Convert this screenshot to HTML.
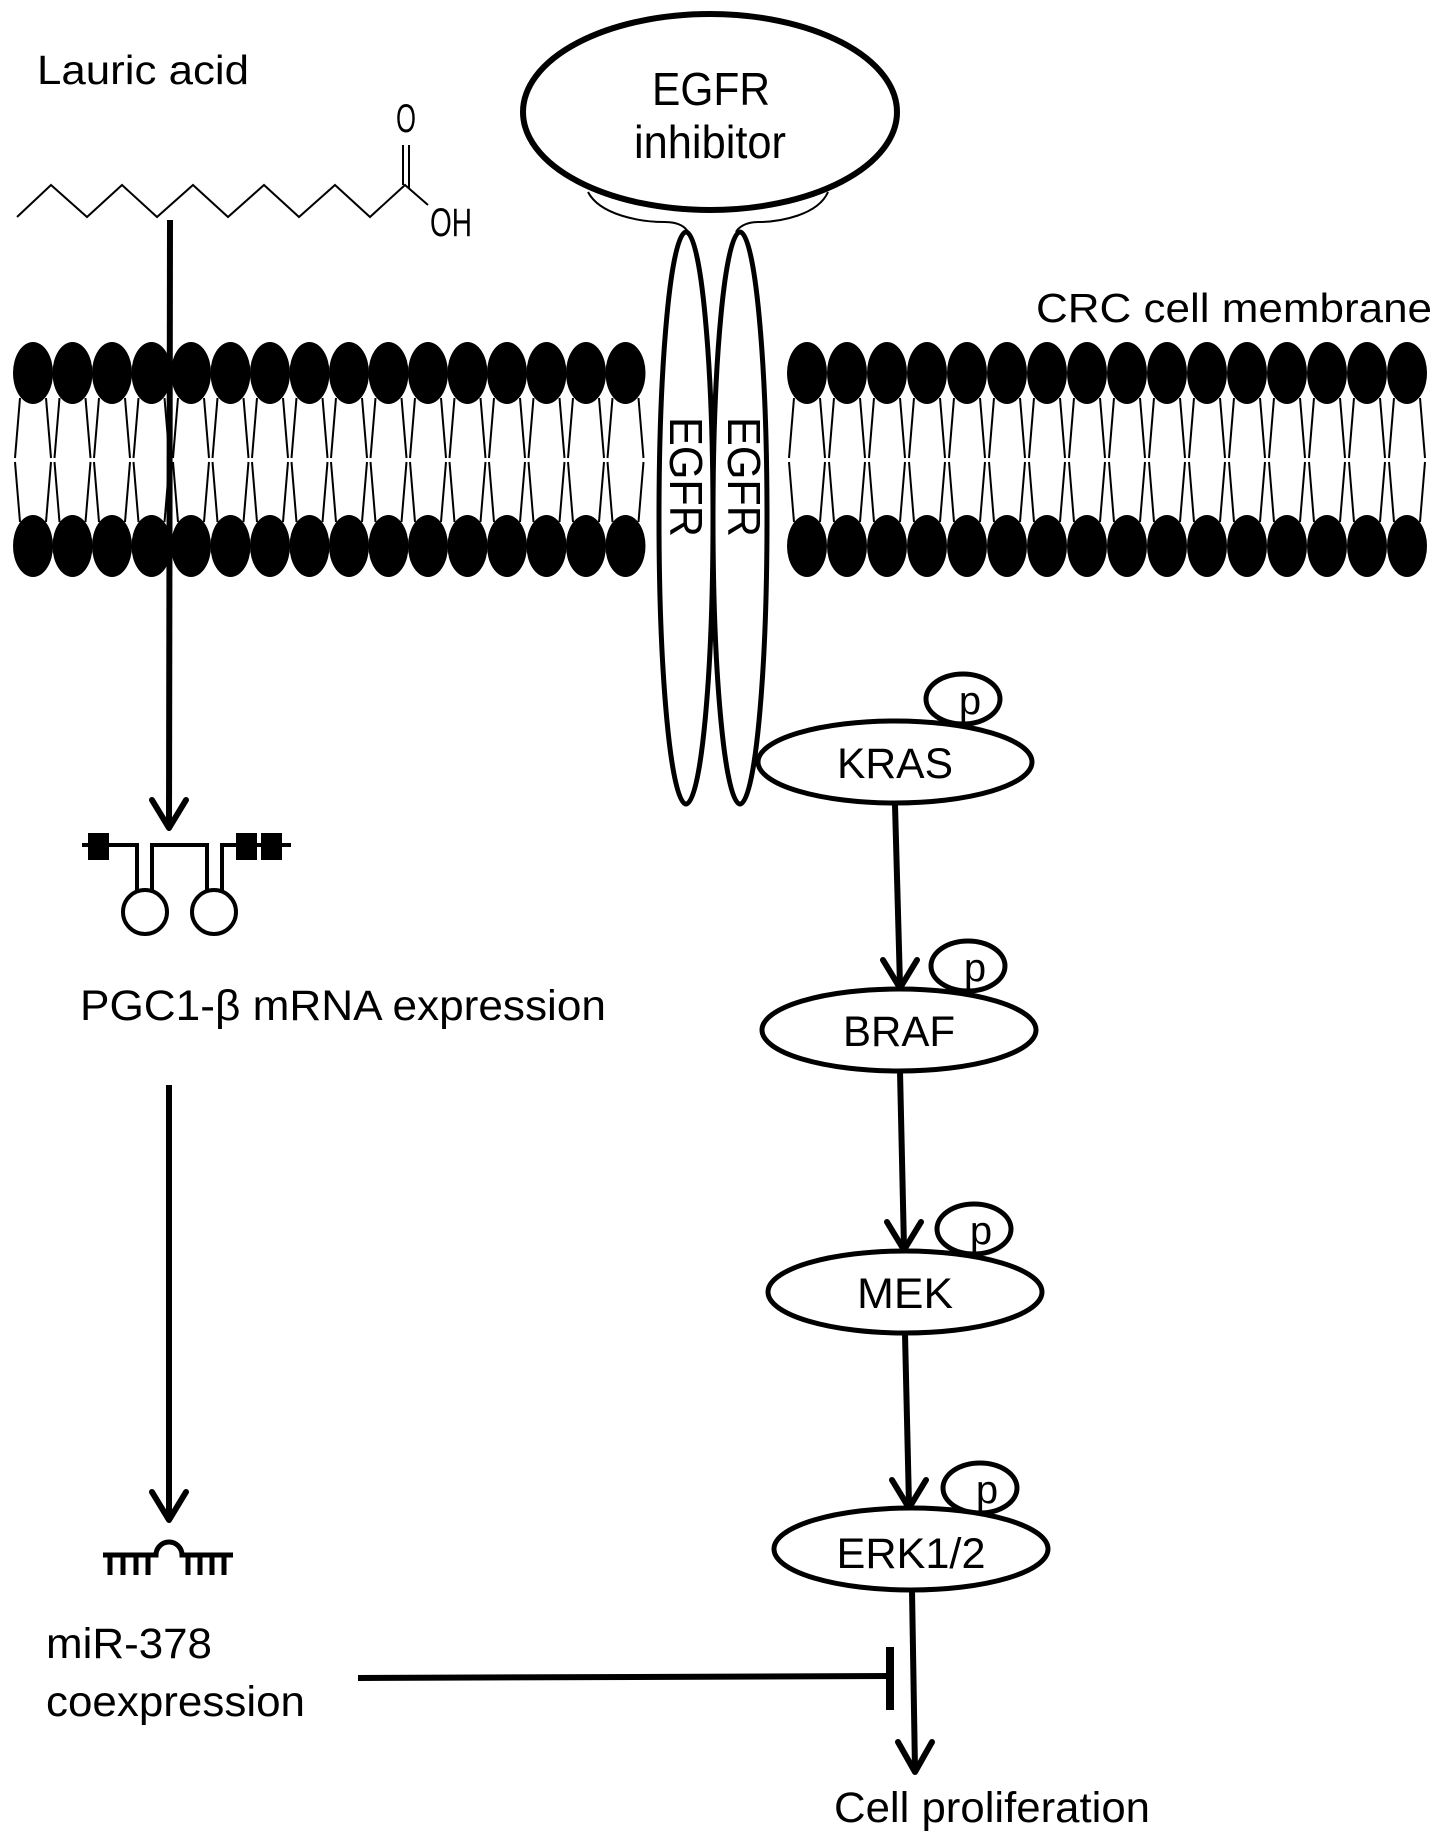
<!DOCTYPE html>
<html><head><meta charset="utf-8"><style>html,body{margin:0;padding:0;background:#fff}svg{display:block}</style></head>
<body>
<svg width="1441" height="1848" viewBox="0 0 1441 1848" xmlns="http://www.w3.org/2000/svg" font-family="Liberation Sans, Arial, sans-serif">
<defs>
<g id="lip">
<ellipse cx="0" cy="373" rx="20" ry="31" fill="#000"/>
<ellipse cx="0" cy="546" rx="20" ry="31" fill="#000"/>
<g stroke="#000" stroke-width="2">
<line x1="-13" y1="398" x2="-18" y2="458"/><line x1="13" y1="398" x2="18" y2="458"/>
<line x1="-13" y1="522" x2="-18" y2="462"/><line x1="13" y1="522" x2="18" y2="462"/>
</g>
</g>
</defs>
<rect width="1441" height="1848" fill="#fff"/>

<!-- Lauric acid -->
<text x="37" y="84" font-size="41" textLength="212" lengthAdjust="spacingAndGlyphs">Lauric acid</text>
<polyline points="17,217 51,185 87,217 122,185 157,217 193,185 228,217 264,185 299,217 335,185 370,217 405,185 428,205" fill="none" stroke="#000" stroke-width="2"/>
<line x1="403" y1="185" x2="403" y2="145" stroke="#000" stroke-width="2"/>
<line x1="409" y1="188" x2="409" y2="145" stroke="#000" stroke-width="2"/>
<text x="406" y="132" font-size="40" text-anchor="middle" textLength="20" lengthAdjust="spacingAndGlyphs">O</text>
<text x="430" y="236" font-size="40" textLength="42" lengthAdjust="spacingAndGlyphs">OH</text>

<!-- membrane -->
<g>
<use href="#lip" x="33"/><use href="#lip" x="72.5"/><use href="#lip" x="112"/><use href="#lip" x="151.5"/>
<use href="#lip" x="191"/><use href="#lip" x="230.5"/><use href="#lip" x="270"/><use href="#lip" x="309.5"/>
<use href="#lip" x="349"/><use href="#lip" x="388.5"/><use href="#lip" x="428"/><use href="#lip" x="467.5"/>
<use href="#lip" x="507"/><use href="#lip" x="546.5"/><use href="#lip" x="586"/><use href="#lip" x="625.5"/>
<use href="#lip" x="807"/><use href="#lip" x="847"/><use href="#lip" x="887"/><use href="#lip" x="927"/>
<use href="#lip" x="967"/><use href="#lip" x="1007"/><use href="#lip" x="1047"/><use href="#lip" x="1087"/>
<use href="#lip" x="1127"/><use href="#lip" x="1167"/><use href="#lip" x="1207"/><use href="#lip" x="1247"/>
<use href="#lip" x="1287"/><use href="#lip" x="1327"/><use href="#lip" x="1367"/><use href="#lip" x="1407"/>
</g>
<text x="1036" y="322" font-size="41" textLength="396" lengthAdjust="spacingAndGlyphs">CRC cell membrane</text>

<!-- lauric arrow 1 -->
<line x1="170" y1="220" x2="169" y2="826" stroke="#000" stroke-width="6"/>
<polyline points="152,800 169,828 186,800" fill="none" stroke="#000" stroke-width="6" stroke-linecap="round" stroke-linejoin="round"/>

<!-- gene symbol -->
<g fill="none" stroke="#000" stroke-width="4">
<path d="M82,845 H137 V892"/>
<path d="M152,892 V845 H207 V892"/>
<path d="M222,892 V845 H291"/>
<circle cx="145" cy="912" r="22"/>
<circle cx="214" cy="912" r="22"/>
</g>
<rect x="88" y="833" width="21" height="27" fill="#000"/>
<rect x="236" y="833" width="21" height="27" fill="#000"/>
<rect x="261" y="833" width="21" height="27" fill="#000"/>

<text x="80" y="1020" font-size="43" textLength="526" lengthAdjust="spacingAndGlyphs">PGC1-β mRNA expression</text>

<!-- lauric arrow 2 -->
<line x1="169" y1="1085" x2="169" y2="1518" stroke="#000" stroke-width="6"/>
<polyline points="152,1492 169,1520 186,1492" fill="none" stroke="#000" stroke-width="6" stroke-linecap="round" stroke-linejoin="round"/>

<!-- miRNA -->
<g stroke="#000" stroke-width="5" fill="none">
<path d="M103,1555 H156 A13,13 0 0 1 182,1555 H233"/>
<path d="M110,1555 V1575 M123,1555 V1575 M136,1555 V1575 M148,1555 V1575 M188,1555 V1575 M200,1555 V1575 M212,1555 V1575 M224,1555 V1575"/>
</g>

<text x="46" y="1658" font-size="43" textLength="166" lengthAdjust="spacingAndGlyphs">miR-378</text>
<text x="46" y="1716" font-size="43" textLength="259" lengthAdjust="spacingAndGlyphs">coexpression</text>

<!-- EGFR inhibitor -->
<path d="M588,192 C600,215 640,222 665,222 C680,222 686,228 688,232" fill="none" stroke="#000" stroke-width="2"/>
<path d="M828,192 C818,215 780,222 758,222 C745,222 738,228 736,232" fill="none" stroke="#000" stroke-width="2"/>
<ellipse cx="710" cy="112" rx="187" ry="98" fill="#fff" stroke="#000" stroke-width="6"/>
<text x="711" y="105" font-size="46" text-anchor="middle" textLength="118" lengthAdjust="spacingAndGlyphs">EGFR</text>
<text x="710" y="158" font-size="46" text-anchor="middle" textLength="152" lengthAdjust="spacingAndGlyphs">inhibitor</text>

<!-- receptors -->
<ellipse cx="686" cy="518" rx="27" ry="286" fill="#fff" stroke="#000" stroke-width="5"/>
<ellipse cx="740" cy="518" rx="27" ry="286" fill="#fff" stroke="#000" stroke-width="5"/>
<text transform="translate(670,477) rotate(90)" font-size="46" text-anchor="middle" textLength="120" lengthAdjust="spacingAndGlyphs">EGFR</text>
<text transform="translate(728,477) rotate(90)" font-size="46" text-anchor="middle" textLength="120" lengthAdjust="spacingAndGlyphs">EGFR</text>

<!-- pathway -->
<g fill="none" stroke="#000" stroke-width="6" stroke-linecap="round" stroke-linejoin="round">
<line x1="895" y1="805" x2="900" y2="985" stroke-linecap="butt"/>
<polyline points="883,960 900,988 917,960"/>
<line x1="900" y1="1071" x2="904" y2="1248" stroke-linecap="butt"/>
<polyline points="887,1222 904,1250 921,1222"/>
<line x1="905" y1="1334" x2="909" y2="1505" stroke-linecap="butt"/>
<polyline points="892,1480 909,1508 926,1480"/>
<line x1="912" y1="1590" x2="915" y2="1770" stroke-linecap="butt"/>
<polyline points="898,1742 915,1772 932,1742"/>
</g>
<line x1="358" y1="1678" x2="890" y2="1676" stroke="#000" stroke-width="6"/>
<line x1="890" y1="1647" x2="890" y2="1710" stroke="#000" stroke-width="8"/>

<g fill="#fff" stroke="#000" stroke-width="5">
<ellipse cx="963" cy="699" rx="37" ry="25"/>
<ellipse cx="895" cy="762" rx="137" ry="41"/>
<ellipse cx="968" cy="966" rx="37" ry="25"/>
<ellipse cx="899" cy="1030" rx="137" ry="41"/>
<ellipse cx="974" cy="1229" rx="37" ry="25"/>
<ellipse cx="905" cy="1292" rx="137" ry="41"/>
<ellipse cx="980" cy="1488" rx="37" ry="25"/>
<ellipse cx="911" cy="1549" rx="137" ry="41"/>
</g>
<g font-size="43" text-anchor="middle">
<text x="895" y="778" textLength="116" lengthAdjust="spacingAndGlyphs">KRAS</text>
<text x="899" y="1046" textLength="112" lengthAdjust="spacingAndGlyphs">BRAF</text>
<text x="905" y="1308" textLength="96" lengthAdjust="spacingAndGlyphs">MEK</text>
<text x="911" y="1568" textLength="149" lengthAdjust="spacingAndGlyphs">ERK1/2</text>
</g>
<g font-size="40" text-anchor="middle">
<text x="970" y="714">p</text>
<text x="975" y="981">p</text>
<text x="981" y="1244">p</text>
<text x="987" y="1503">p</text>
</g>

<text x="834" y="1822" font-size="43" textLength="316" lengthAdjust="spacingAndGlyphs">Cell proliferation</text>
</svg>
</body></html>
